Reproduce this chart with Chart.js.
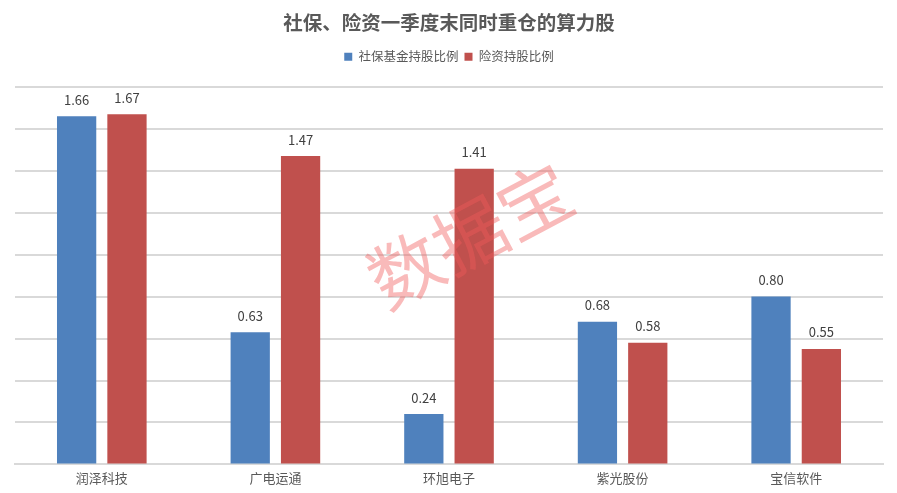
<!DOCTYPE html>
<html lang="zh"><head>
<meta charset="utf-8">
<title>社保、险资一季度末同时重仓的算力股</title>
<style>
* { margin: 0; padding: 0 }
body { background: #fff; }
#wrap { width: 897px; height: 493px; }
</style>
<script src="https://cdn.jsdelivr.net/npm/chart.js"></script>
</head><body>
<div id="wrap"><canvas id="Chart"></canvas></div>
<script>
const FONT = "'Noto Sans CJK SC', 'Microsoft YaHei', sans-serif";

const categories = ["润泽科技", "广电运通", "环旭电子", "紫光股份", "宝信软件"];
const socialFund = [1.66, 0.63, 0.24, 0.68, 0.80];
const insurance = [1.67, 1.47, 1.41, 0.58, 0.55];
const seriesNames = ["社保基金持股比例", "险资持股比例"];

// value labels above each bar
const barLabels = {
    id: "barLabels",
    afterDatasetsDraw(chart) {
        const ctx = chart.ctx;
        ctx.save();
        ctx.font = "13px " + FONT;
        ctx.fillStyle = "#404040";
        ctx.textAlign = "center";
        ctx.textBaseline = "bottom";
        chart.data.datasets.forEach((ds, i) => {
            chart.getDatasetMeta(i).data.forEach((bar, j) => {
                ctx.fillText(ds.data[j].toFixed(2), bar.x, bar.y - 10);
            });
        });
        ctx.restore();
    }
};

// extra room under the legend
const legendGap = {
    id: "legendGap",
    beforeInit(chart) {
        const fit = chart.legend.fit;
        chart.legend.fit = function () {
            fit.bind(chart.legend)();
            this.height += 14;
        };
    }
};

// pink watermark
const watermark = {
    id: "watermark",
    afterDraw(chart) {
        const ctx = chart.ctx;
        ctx.save();
        ctx.translate(470, 235);
        ctx.rotate(-28 * Math.PI / 180);
        ctx.font = "73px " + FONT;
        ctx.fillStyle = "rgba(240, 90, 90, 0.42)";
        ctx.textAlign = "center";
        ctx.textBaseline = "middle";
        ctx.fillText("数据宝", 0, 0);
        ctx.restore();
    }
};

new Chart(document.getElementById("Chart"), {
    type: "bar",
    data: {
        labels: categories,
        datasets: [{
            label: seriesNames[0],
            data: socialFund,
            backgroundColor: "#4f81bd",
        },{
            label: seriesNames[1],
            data: insurance,
            backgroundColor: "#c0504d",
        }],
    },
    options: {
        responsive: true,
        maintainAspectRatio: false,
        animation: false,
        layout: { padding: { left: 15, right: 14, top: 9, bottom: 1 } },
        datasets: { bar: { barPercentage: 0.78, categoryPercentage: 0.58 } },
        plugins: {
            title: {
                display: true,
                text: "社保、险资一季度末同时重仓的算力股",
                color: "#595959",
                font: { family: FONT, size: 19.5, weight: "bold" },
                padding: { top: 2, bottom: 10 },
            },
            legend: {
                labels: {
                    color: "#595959",
                    font: { family: FONT, size: 12.5 },
                    boxWidth: 8,
                    boxHeight: 8,
                    padding: 6,
                },
            },
            tooltip: { enabled: false },
        },
        scales: {
            x: {
                grid: { display: false, drawTicks: false },
                border: { color: "#d9d9d9", width: 2 },
                ticks: { color: "#595959", font: { family: FONT, size: 13 }, padding: 6 },
            },
            y: {
                min: 0,
                max: 1.8,
                ticks: { display: false, stepSize: 0.2 },
                grid: { color: "#d9d9d9", lineWidth: 2, drawTicks: false },
                border: { display: false },
            },
        },
    },
    plugins: [barLabels, legendGap, watermark],
});
</script>
</body></html>
